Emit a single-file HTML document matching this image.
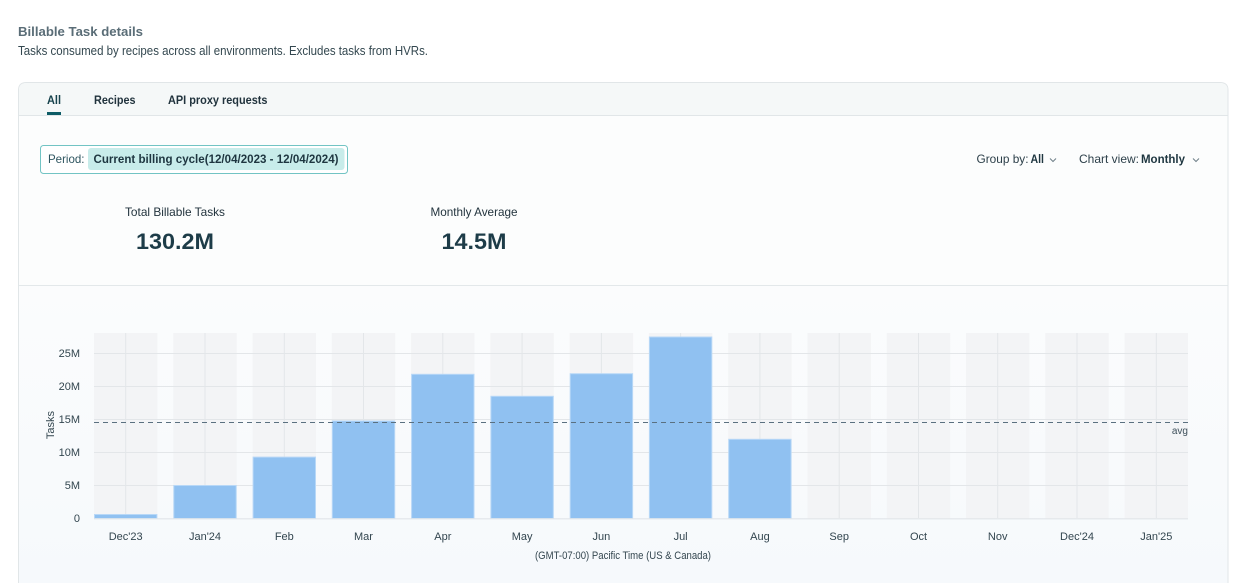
<!DOCTYPE html>
<html><head><meta charset="utf-8"><style>
html,body{margin:0;padding:0;background:#fff;}
svg{display:block;font-family:"Liberation Sans",sans-serif;}
</style></head><body>
<svg width="1247" height="583" viewBox="0 0 1247 583" xmlns="http://www.w3.org/2000/svg">
<defs>
<linearGradient id="cg" x1="0" y1="0" x2="0" y2="1">
<stop offset="0" stop-color="#fbfcfd"/><stop offset="1" stop-color="#f6f9fc"/>
</linearGradient>
</defs>
<rect x="0" y="0" width="1247" height="583" fill="#ffffff"/>
<text x="18" y="36" font-size="13" font-weight="bold" fill="#5a6d77" textLength="125" lengthAdjust="spacingAndGlyphs">Billable Task details</text>
<text x="18" y="55" font-size="12.5" fill="#33474f" textLength="410" lengthAdjust="spacingAndGlyphs">Tasks consumed by recipes across all environments. Excludes tasks from HVRs.</text>

<!-- card -->
<path d="M18.5,600 L18.5,90 Q18.5,82.5 26.5,82.5 L1220,82.5 Q1228,82.5 1228,90 L1228,600" fill="#fcfdfd" stroke="#e1e6e8" stroke-width="1"/>
<path d="M19,115 L19,90 Q19,83 27,83 L1220,83 Q1227.5,83 1227.5,90 L1227.5,115 Z" fill="#f5f8f8"/>
<line x1="19" y1="115.5" x2="1227.5" y2="115.5" stroke="#e1e6e8"/>
<rect x="19" y="286" width="1208.5" height="300" fill="url(#cg)"/>
<line x1="19" y1="285.5" x2="1227.5" y2="285.5" stroke="#e3e8ea"/>

<!-- tabs -->
<text x="47" y="104" font-size="12" font-weight="bold" fill="#17434d" textLength="14" lengthAdjust="spacingAndGlyphs">All</text>
<rect x="47" y="112" width="14" height="3" fill="#0e5c66"/>
<text x="94" y="104" font-size="12" font-weight="bold" fill="#21333d" textLength="41.5" lengthAdjust="spacingAndGlyphs">Recipes</text>
<text x="168" y="104" font-size="12" font-weight="bold" fill="#21333d" textLength="99.5" lengthAdjust="spacingAndGlyphs">API proxy requests</text>

<!-- period -->
<rect x="40.5" y="145.5" width="307" height="28" rx="3" fill="#ffffff" stroke="#72c4c4"/>
<rect x="88" y="148" width="256.5" height="22" rx="3" fill="#c8ecea"/>
<text x="48" y="163" font-size="12" fill="#2e5560" textLength="36.5" lengthAdjust="spacingAndGlyphs">Period:</text>
<text x="93.5" y="163" font-size="12" font-weight="bold" fill="#1e3640" textLength="245" lengthAdjust="spacingAndGlyphs">Current billing cycle(12/04/2023 - 12/04/2024)</text>

<!-- group/chart view -->
<text x="976.5" y="163" font-size="12" fill="#2c3f49" textLength="52" lengthAdjust="spacingAndGlyphs">Group by:</text>
<text x="1030.5" y="163" font-size="12" font-weight="bold" fill="#1e3640" textLength="13.5" lengthAdjust="spacingAndGlyphs">All</text>
<polyline points="1050,158.5 1053,161.5 1056,158.5" fill="none" stroke="#6e7f88" stroke-width="1"/>
<text x="1079" y="163" font-size="12" fill="#2c3f49" textLength="60" lengthAdjust="spacingAndGlyphs">Chart view:</text>
<text x="1141" y="163" font-size="12" font-weight="bold" fill="#1e3640" textLength="44" lengthAdjust="spacingAndGlyphs">Monthly</text>
<polyline points="1193,158.5 1196,161.5 1199,158.5" fill="none" stroke="#6e7f88" stroke-width="1"/>

<!-- stats -->
<text x="175" y="216" font-size="12" fill="#23343e" text-anchor="middle" textLength="100" lengthAdjust="spacingAndGlyphs">Total Billable Tasks</text>
<text x="175" y="249" font-size="22" font-weight="bold" fill="#1d3c48" text-anchor="middle" textLength="78" lengthAdjust="spacingAndGlyphs">130.2M</text>
<text x="474" y="216" font-size="12" fill="#23343e" text-anchor="middle" textLength="87" lengthAdjust="spacingAndGlyphs">Monthly Average</text>
<text x="474" y="249" font-size="22" font-weight="bold" fill="#1d3c48" text-anchor="middle" textLength="65" lengthAdjust="spacingAndGlyphs">14.5M</text>

<!-- chart bands -->
<g fill="#f3f4f6">
<rect x="94" y="333" width="63.4" height="185.5"/>
<rect x="173.3" y="333" width="63.4" height="185.5"/>
<rect x="252.6" y="333" width="63.4" height="185.5"/>
<rect x="331.8" y="333" width="63.4" height="185.5"/>
<rect x="411.1" y="333" width="63.4" height="185.5"/>
<rect x="490.4" y="333" width="63.4" height="185.5"/>
<rect x="569.7" y="333" width="63.4" height="185.5"/>
<rect x="648.9" y="333" width="63.4" height="185.5"/>
<rect x="728.2" y="333" width="63.4" height="185.5"/>
<rect x="807.5" y="333" width="63.4" height="185.5"/>
<rect x="886.8" y="333" width="63.4" height="185.5"/>
<rect x="966" y="333" width="63.4" height="185.5"/>
<rect x="1045.3" y="333" width="63.4" height="185.5"/>
<rect x="1124.6" y="333" width="63.4" height="185.5"/>
</g>
<!-- grid -->
<g stroke="#e3e6e9" stroke-width="1">
<line x1="94" y1="353.5" x2="1188" y2="353.5"/>
<line x1="94" y1="386.5" x2="1188" y2="386.5"/>
<line x1="94" y1="419.5" x2="1188" y2="419.5"/>
<line x1="94" y1="452.5" x2="1188" y2="452.5"/>
<line x1="94" y1="485.5" x2="1188" y2="485.5"/>
<line x1="125.7" y1="333" x2="125.7" y2="518"/>
<line x1="205" y1="333" x2="205" y2="518"/>
<line x1="284.3" y1="333" x2="284.3" y2="518"/>
<line x1="363.5" y1="333" x2="363.5" y2="518"/>
<line x1="442.8" y1="333" x2="442.8" y2="518"/>
<line x1="522.1" y1="333" x2="522.1" y2="518"/>
<line x1="601.4" y1="333" x2="601.4" y2="518"/>
<line x1="680.6" y1="333" x2="680.6" y2="518"/>
<line x1="759.9" y1="333" x2="759.9" y2="518"/>
<line x1="839.2" y1="333" x2="839.2" y2="518"/>
<line x1="918.5" y1="333" x2="918.5" y2="518"/>
<line x1="997.7" y1="333" x2="997.7" y2="518"/>
<line x1="1077" y1="333" x2="1077" y2="518"/>
<line x1="1156.3" y1="333" x2="1156.3" y2="518"/>
</g>
<!-- bars -->
<g fill="#90c1f1" stroke="#b8d8f7" stroke-width="1">
<rect x="94.5" y="514.5" width="62.4" height="4"/>
<rect x="173.8" y="485.5" width="62.4" height="33"/>
<rect x="253.1" y="457.1" width="62.4" height="61.4"/>
<rect x="332.3" y="421" width="62.4" height="97.5"/>
<rect x="411.6" y="374.3" width="62.4" height="144.2"/>
<rect x="490.9" y="396.3" width="62.4" height="122.2"/>
<rect x="570.2" y="373.7" width="62.4" height="144.8"/>
<rect x="649.4" y="337" width="62.4" height="181.5"/>
<rect x="728.7" y="439.3" width="62.4" height="79.2"/>
</g>
<line x1="94" y1="518.8" x2="1188" y2="518.8" stroke="#e1e5e9" stroke-width="1.2"/>
<!-- avg -->
<line x1="94" y1="422.5" x2="1188" y2="422.5" stroke="#5a7080" stroke-width="1" stroke-dasharray="5,4"/>
<text x="1188" y="434" font-size="10" fill="#3d4f5a" text-anchor="end">avg</text>

<!-- y ticks -->
<g font-size="11" fill="#33464f" text-anchor="end">
<text x="80" y="357">25M</text>
<text x="80" y="390">20M</text>
<text x="80" y="423">15M</text>
<text x="80" y="456">10M</text>
<text x="80" y="489">5M</text>
<text x="80" y="522">0</text>
</g>
<text transform="translate(54,425) rotate(-90)" font-size="11" fill="#33464f" text-anchor="middle">Tasks</text>

<!-- x ticks -->
<g font-size="11" fill="#33464f" text-anchor="middle">
<text x="125.7" y="540">Dec'23</text>
<text x="205" y="540">Jan'24</text>
<text x="284.3" y="540">Feb</text>
<text x="363.5" y="540">Mar</text>
<text x="442.8" y="540">Apr</text>
<text x="522.1" y="540">May</text>
<text x="601.4" y="540">Jun</text>
<text x="680.6" y="540">Jul</text>
<text x="759.9" y="540">Aug</text>
<text x="839.2" y="540">Sep</text>
<text x="918.5" y="540">Oct</text>
<text x="997.7" y="540">Nov</text>
<text x="1077" y="540">Dec'24</text>
<text x="1156.3" y="540">Jan'25</text>
</g>
<text x="623" y="559" font-size="11" fill="#33464f" text-anchor="middle" textLength="176" lengthAdjust="spacingAndGlyphs">(GMT-07:00) Pacific Time (US &amp; Canada)</text>
</svg>
</body></html>
